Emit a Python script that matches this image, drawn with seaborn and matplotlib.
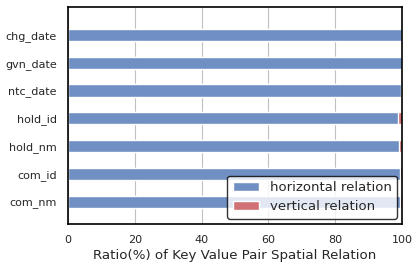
import matplotlib
matplotlib.use("Agg")
import matplotlib.pyplot as plt
import pandas as pd
import seaborn as sns

# key names and ratio (%) of horizontal / vertical relation
keys = ["chg_date", "gvn_date", "ntc_date", "hold_id", "hold_nm", "com_id", "com_nm"]
horizontal = [100.0, 100.0, 99.7, 98.7, 99.2, 99.5, 99.5]
vertical = [0.0, 0.0, 0.3, 1.3, 0.8, 0.5, 0.5]

df = pd.DataFrame({"key": keys, "horizontal": horizontal, "vertical": vertical})
df["total"] = df["horizontal"] + df["vertical"]

sns.set_theme(style="whitegrid")
plt.rcParams["font.family"] = ["DejaVu Sans"]

# colours already blended with white (alpha 0.8 look), so stacked bars don't mix
blue = "#7090c4"
red = "#d07175"

fig = plt.figure(figsize=(4.2, 2.68), dpi=100)
ax = fig.add_axes([0.162, 0.164, 0.795, 0.810])

# stacked: full bar in red, horizontal part drawn on top in blue
sns.barplot(data=df, x="total", y="key", color=red, saturation=1,
            width=0.44, orient="h", ax=ax, label="vertical relation")
sns.barplot(data=df, x="horizontal", y="key", color=blue, saturation=1,
            width=0.44, orient="h", ax=ax, label="horizontal relation")

ax.set_xlim(0, 100)
ax.set_ylim(6.8, -1)
ax.set_xticks([0, 20, 40, 60, 80, 100])
ax.set_ylabel("")
ax.set_xlabel("Ratio(%) of Key Value Pair Spatial Relation", fontsize=9.6, labelpad=3)
ax.tick_params(axis="both", labelsize=8, length=0, pad=8)
ax.grid(axis="y", visible=False)
ax.grid(axis="x", color="#c0c0c0", linewidth=0.8)
for s in ax.spines.values():
    s.set_color("black")
    s.set_linewidth(1.2)

h, l = ax.get_legend_handles_labels()
leg = ax.legend(h[::-1], l[::-1], loc="lower right", fontsize=9.5, frameon=True,
                edgecolor="black", framealpha=0.8, handlelength=2.0,
                borderaxespad=0.4)

fig.savefig("out.png", dpi=100)
